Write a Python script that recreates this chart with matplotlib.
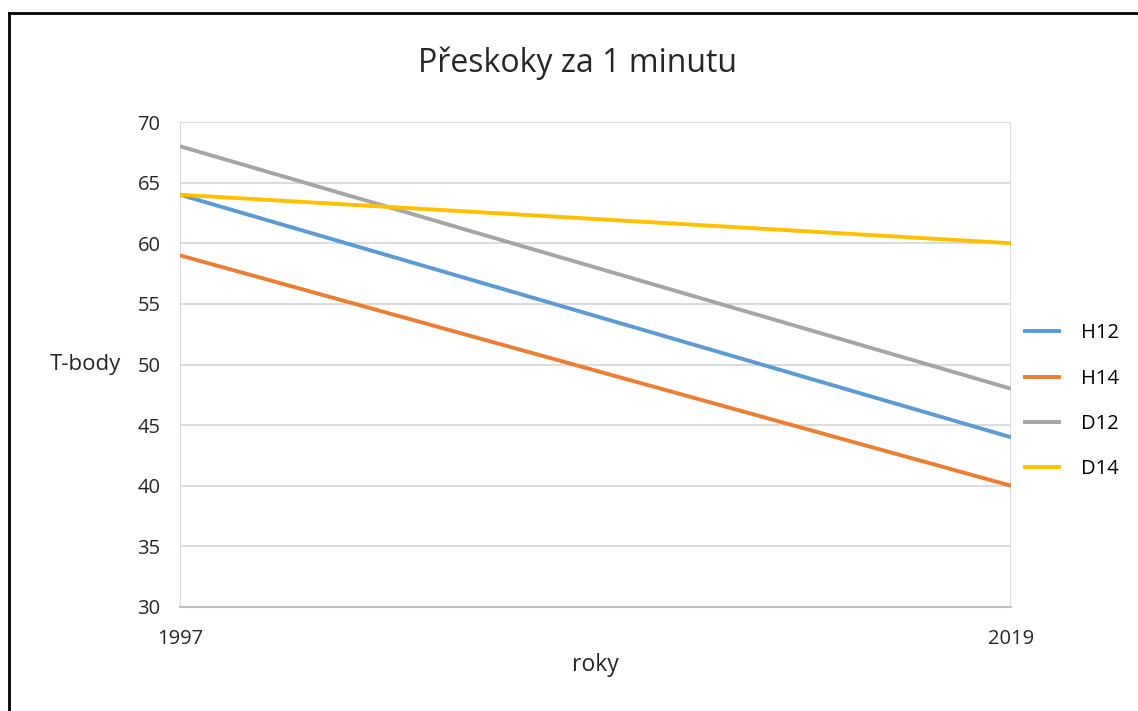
import matplotlib.pyplot as plt
from matplotlib.lines import Line2D

plt.rcParams['font.family'] = ['Open Sans', 'DejaVu Sans']

roky = ['1997', '2019']
h12 = [64, 44]
h14 = [59, 40]
d12 = [68, 48]
d14 = [64, 60]

serie = [('H12', h12, '#5b9bd5'), ('H14', h14, '#ed7d31'),
         ('D12', d12, '#a5a5a5'), ('D14', d14, '#ffc000')]

fig = plt.figure(figsize=(11.38, 7.11), dpi=100)
ax = fig.add_axes([180 / 1138, 1 - 607 / 711, (1011 - 180) / 1138, (607 - 122) / 711])

x = range(len(roky))
for nazev, hodnoty, barva in serie:
    ax.plot(x, hodnoty, color=barva, lw=2.8, label=nazev, solid_capstyle='butt')

ax.set_xlim(0, len(roky) - 1)
ax.set_ylim(30, 70)
ax.set_yticks(range(30, 71, 5))
ax.set_xticks(list(x))
ax.set_xticklabels(roky)
ax.grid(True, color='#d9d9d9', lw=1.3)
ax.set_axisbelow(True)
for s in ['top', 'right', 'left']:
    ax.spines[s].set_visible(False)
ax.spines['bottom'].set_color('#bfbfbf')
ax.spines['bottom'].set_linewidth(1.5)
ax.tick_params(length=0, labelsize=14.5, labelcolor='#262626')
ax.tick_params(axis='y', pad=14)
ax.tick_params(axis='x', pad=16)

ax.set_xlabel('roky', fontsize=16.5, labelpad=3, color='#262626')
ax.set_ylabel('T-body', fontsize=16, rotation=0, va='center', color='#262626')
ax.yaxis.set_label_coords(-0.114, 0.5)

fig.text(578 / 1138, 1 - 63 / 711, 'Přeskoky za 1 minutu', fontsize=23,
         ha='center', va='center', color='#262626')

ax.legend(loc='center left', bbox_to_anchor=(0.993, 0.424), frameon=False,
          fontsize=14.5, handlelength=1.85, handletextpad=1.0, labelspacing=1.26)

# rámeček grafu
fig.add_artist(Line2D([9 / 1138, 9 / 1138], [0, 1 - 13 / 711], color='black', lw=2))
fig.add_artist(Line2D([9 / 1138, 1], [1 - 13 / 711, 1 - 13 / 711], color='black', lw=2))

fig.savefig('out.png', dpi=100)
